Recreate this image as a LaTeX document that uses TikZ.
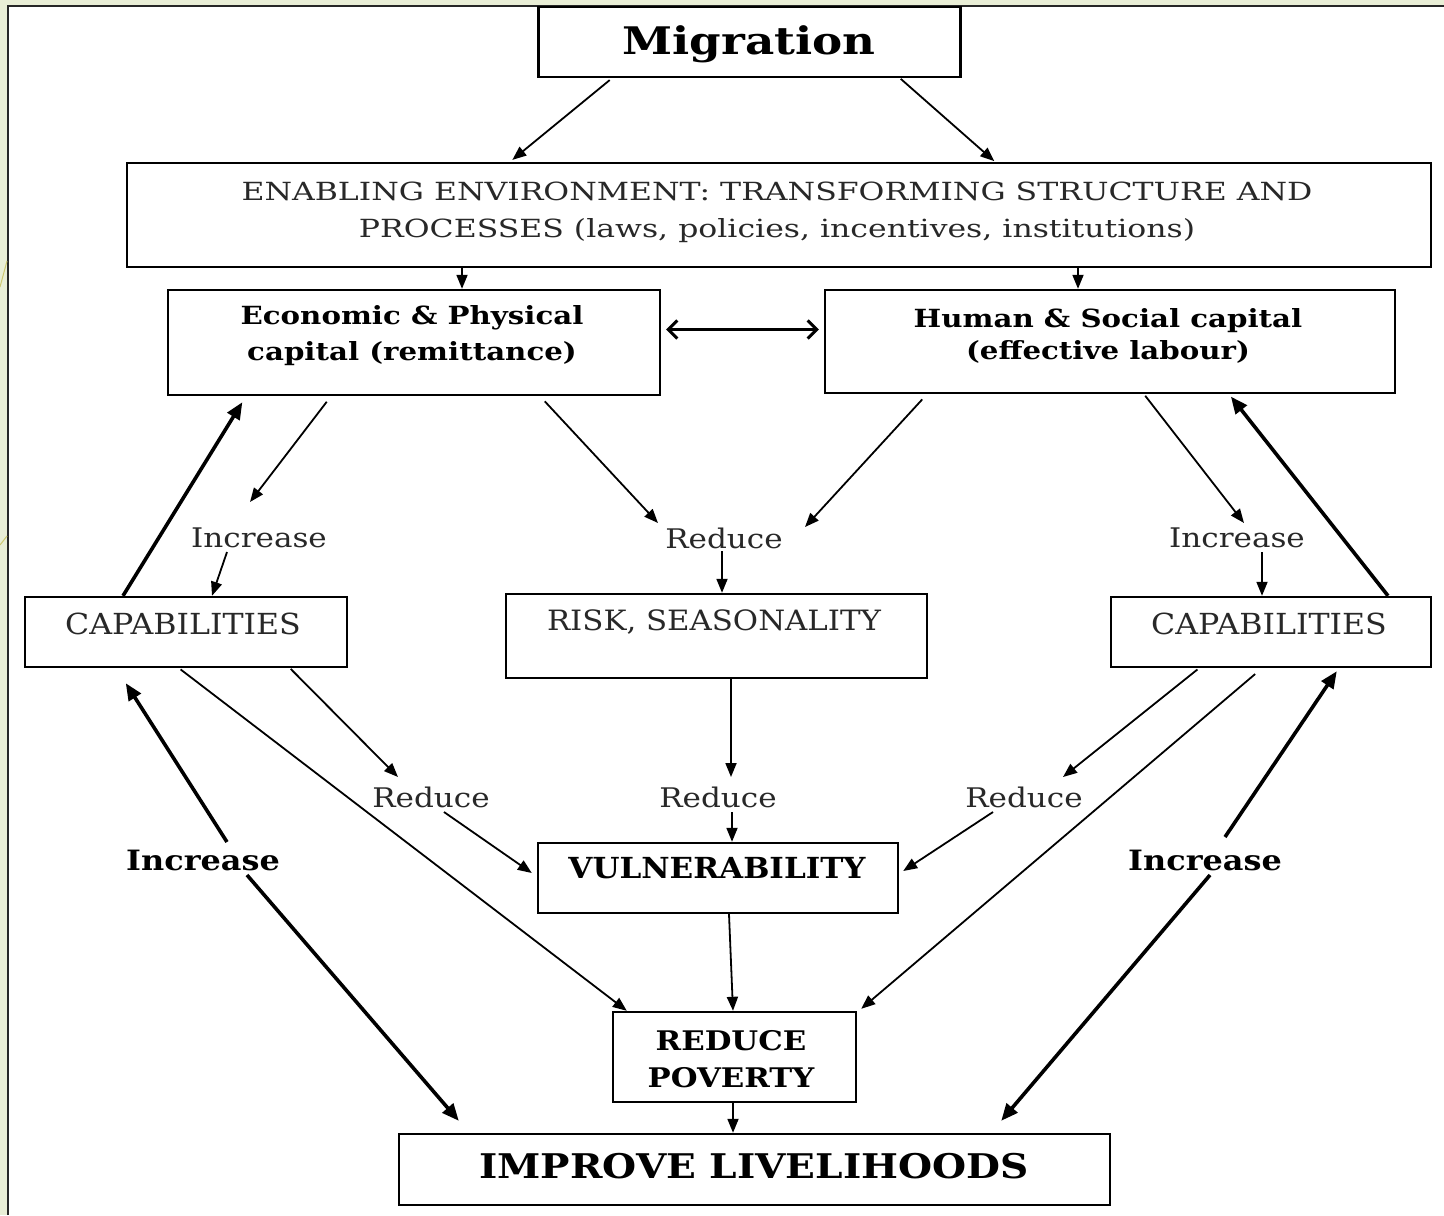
\documentclass[tikz,border=0pt]{standalone}
\usepackage{fontspec}
\setmainfont{DejaVu Serif}
\usetikzlibrary{arrows.meta,calc}
\definecolor{slidebg}{HTML}{E9EED6}
\definecolor{txt}{HTML}{282828}
\newcommand{\fsz}[3]{\addfontfeature{FakeStretch=#3}\fontsize{#1bp}{#2bp}\selectfont}
\begin{document}
\begin{tikzpicture}[x=1bp,y=-1bp,
  boxst/.style={draw=black,line width=2.4bp,inner sep=0pt},
  lab/.style={inner sep=0pt,text=txt},
  blab/.style={inner sep=0pt,text=black},
  thin/.style={line width=1.8bp,-{Triangle[length=14bp,width=11bp]}},
  thick/.style={line width=3.6bp,-{Triangle[length=17bp,width=14bp]}},
  dbl/.style={line width=3bp,{Straight Barb[length=9bp,width=18bp]}-{Straight Barb[length=9bp,width=18bp]}}]
\useasboundingbox (0,0) rectangle (1444,1215);
\fill[slidebg] (0,0) rectangle (1444,1215);
\fill[white] (7.5,5.5) rectangle (1444,1215);
\draw[line width=2bp,black!85] (7.5,1215) -- (7.5,5.5) -- (1444,5.5);
\draw[olive!45,line width=1bp] (0,287) -- (7,261) (0,545) -- (7,536);
% boxes
\node[boxst,minimum width=422bp,minimum height=70bp] (mig) at (749.5,42) {};
\node[boxst,minimum width=1304bp,minimum height=104bp] (env) at (779,215) {};
\node[boxst,minimum width=492bp,minimum height=105bp] (econ) at (414,342.5) {};
\node[boxst,minimum width=570bp,minimum height=103bp] (hum) at (1110,341.5) {};
\node[boxst,minimum width=322bp,minimum height=70bp] (capL) at (186,632) {};
\node[boxst,minimum width=421bp,minimum height=84bp] (risk) at (716.5,636) {};
\node[boxst,minimum width=320bp,minimum height=70bp] (capR) at (1271,632) {};
\node[boxst,minimum width=360bp,minimum height=70bp] (vul) at (718,878) {};
\node[boxst,minimum width=243bp,minimum height=90bp] (pov) at (734.5,1057) {};
\node[boxst,minimum width=711bp,minimum height=71bp] (imp) at (754.5,1169.5) {};
% texts
\node[blab,font=\bfseries\fsz{38}{40}{1.19}] (migT) at (749,44) {Migration};
\node[lab,align=center,font=\fsz{25}{37}{1.26}] (envT) at (777,212) {ENABLING ENVIRONMENT: TRANSFORMING STRUCTURE AND\\PROCESSES (laws, policies, incentives, institutions)};
\node[blab,align=center,font=\bfseries\fsz{25}{36}{1.17}] (econT) at (412,336) {Economic \& Physical\\capital (remittance)};
\node[blab,align=center,font=\bfseries\fsz{25}{32}{1.17}] (humT) at (1108,336) {Human \& Social capital\\(effective labour)};
\node[lab,font=\fsz{29}{32}{1.09}] (capLT) at (183,624) {CAPABILITIES};
\node[lab,font=\fsz{28}{30}{1.10}] (riskT) at (714,622) {RISK, SEASONALITY};
\node[lab,font=\fsz{29}{32}{1.09}] (capRT) at (1269,624) {CAPABILITIES};
\node[blab,font=\bfseries\fsz{29}{32}{1.07}] (vulT) at (717,868) {VULNERABILITY};
\node[blab,align=center,font=\bfseries\fsz{27}{37}{1.14}] (povT) at (731,1059) {REDUCE\\POVERTY};
\node[blab,font=\bfseries\fsz{34}{36}{1.15}] (impT) at (754,1166) {IMPROVE LIVELIHOODS};
% labels
\node[lab,font=\fsz{27}{30}{1.15}] (incTL) at (259,538) {Increase};
\node[lab,font=\fsz{27}{30}{1.15}] (redTC) at (724,538) {Reduce};
\node[lab,font=\fsz{27}{30}{1.15}] (incTR) at (1237,538) {Increase};
\node[lab,font=\fsz{27}{30}{1.15}] (redL) at (431,797) {Reduce};
\node[lab,font=\fsz{27}{30}{1.15}] (redC) at (718,797) {Reduce};
\node[lab,font=\fsz{27}{30}{1.15}] (redR) at (1024,797) {Reduce};
\node[blab,font=\bfseries\fsz{28}{30}{1.14}] (incBL) at (203,860) {Increase};
\node[blab,font=\bfseries\fsz{28}{30}{1.14}] (incBR) at (1205,860) {Increase};
% connectors
\draw[thin,shorten <=3bp,shorten >=3bp] (612,0 |- mig.south) -- (510,0 |- env.north);
\draw[thin,shorten <=1bp,shorten >=1bp] (900,0 |- mig.south) -- (995,0 |- env.north);
\draw[thin] (462,0 |- env.south) -- (462,0 |- econ.north);
\draw[thin] (1078,0 |- env.south) -- (1078,0 |- hum.north);
\draw[dbl] ($(econ.east)+(5,-13)$) -- ($(hum.west)+(-5,-12)$);
\draw[thin,shorten <=7bp] (331,0 |- econ.south) -- ($(incTL)+(-9,-36)$);
\draw[thin] ($(incTL)+(-32,14)$) -- (212,0 |- capL.north);
\draw[thick,shorten >=7bp] (123,0 |- capL.north) -- (246,0 |- econ.south);
\draw[thin,shorten <=7bp] (540,0 |- econ.south) -- ($(redTC)+(-66,-15)$);
\draw[thin,shorten <=7bp] (927,0 |- hum.south) -- ($(redTC)+(81,-11)$);
\draw[thin] ($(redTC)+(-2,13)$) -- (722,0 |- risk.north);
\draw[thin,shorten <=2bp] (1144,0 |- hum.south) -- ($(incTR)+(7,-15)$);
\draw[thin] ($(incTR)+(25,14)$) -- (1262,0 |- capR.north);
\draw[thick,shorten >=3bp] (1388,0 |- capR.north) -- (1229,0 |- hum.south);
\draw[thin,shorten <=1bp] (290,0 |- capL.south) -- ($(redL)+(-33,-20)$);
\draw[thin] ($(redL)+(13,15)$) -- ($(vul.west)+(-5,-5)$);
\draw[thin,shorten <=2bp] (179,0 |- capL.south) -- ($(pov.north west)+(15,0)$);
\draw[thin] (731,0 |- risk.south) -- ($(redC)+(13,-20)$);
\draw[thin] ($(redC)+(14,15)$) -- (732,0 |- vul.north);
\draw[thin,shorten <=2bp] (1199,0 |- capR.south) -- ($(redR)+(39,-20)$);
\draw[thin] ($(redR)+(-31,15)$) -- ($(vul.east)+(4,-7)$);
\draw[thin,shorten <=9bp] (1262,0 |- capR.south) -- ($(pov.north east)+(4,-2)$);
\draw[thin] (729,0 |- vul.south) -- (733,0 |- pov.north);
\draw[thin] (733,0 |- pov.south) -- (733,0 |- imp.north);
\draw[thick] ($(incBL)+(24,-18)$) -- ($(capL.south west)+(102,15)$);
\draw[thick] ($(incBL)+(44,15)$) -- ($(imp.north west)+(61,-12)$);
\draw[thick] ($(incBR)+(20,-23)$) -- ($(capR.south west)+(227,3)$);
\draw[thick] ($(incBR)+(5,15)$) -- ($(imp.north east)+(-110,-12)$);
\end{tikzpicture}
\end{document}
